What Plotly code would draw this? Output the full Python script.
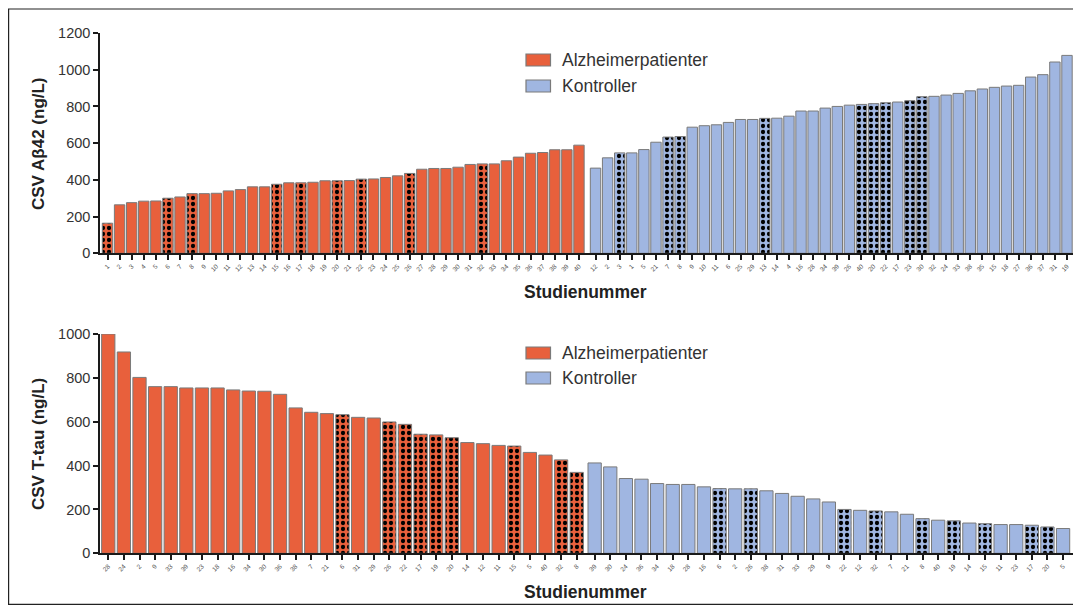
import plotly.graph_objects as go

# page offset (browser body margin) and the resulting figure size
OX, OY = 8, 8
W, H = 1081 - OX, 605 - OY

# ---------------- DATA ----------------
# Top chart: CSV Abeta42 (ng/L)
top_alz_labels = ["1", "2", "3", "4", "5", "6", "7", "8", "9", "10",
                  "11", "12", "13", "14", "15", "16", "17", "18", "19", "20",
                  "21", "22", "23", "24", "25", "26", "27", "28", "29", "30",
                  "31", "32", "33", "34", "35", "36", "37", "38", "39", "40"]
top_alz_values = [164, 264, 276, 284, 285, 300, 307, 325, 325, 327,
                  340, 347, 362, 362, 376, 384, 384, 387, 395, 395,
                  396, 404, 405, 413, 422, 435, 458, 462, 462, 469,
                  484, 487, 487, 504, 524, 545, 549, 564, 564, 589]
top_alz_marked = [1, 0, 0, 0, 0, 1, 0, 1, 0, 0,
                  0, 0, 0, 0, 1, 0, 1, 0, 0, 1,
                  0, 1, 0, 0, 0, 1, 0, 0, 0, 0,
                  0, 1, 0, 0, 0, 0, 0, 0, 0, 0]

top_ctl_labels = ["12", "2", "3", "1", "5", "21", "7", "8", "9", "10",
                  "11", "6", "25", "29", "13", "14", "4", "16", "28", "34",
                  "39", "26", "40", "20", "22", "17", "23", "30", "32", "24",
                  "33", "38", "35", "15", "18", "27", "36", "37", "31", "19"]
top_ctl_values = [464, 520, 547, 547, 565, 605, 633, 636, 687, 695,
                  700, 713, 729, 729, 735, 736, 747, 775, 775, 791,
                  800, 807, 811, 815, 820, 824, 831, 853, 855, 862,
                  871, 885, 895, 904, 911, 915, 960, 973, 1042, 1078]
top_ctl_marked = [0, 0, 1, 0, 0, 0, 1, 1, 0, 0,
                  0, 0, 0, 0, 1, 0, 0, 0, 0, 0,
                  0, 0, 1, 1, 1, 0, 1, 1, 0, 0,
                  0, 0, 0, 0, 0, 0, 0, 0, 0, 0]

# Bottom chart: CSV T-tau (ng/L)
bot_alz_labels = ["28", "24", "2", "9", "33", "39", "23", "18", "16", "34",
                  "30", "36", "38", "7", "21", "6", "31", "29", "26", "22",
                  "17", "19", "20", "14", "12", "11", "15", "5", "40", "32", "8"]
bot_alz_values = [1000, 918, 802, 760, 760, 754, 754, 754, 745, 740,
                  739, 725, 663, 643, 637, 632, 620, 617, 599, 588,
                  543, 540, 527, 505, 500, 492, 489, 460, 448, 426, 369]
bot_alz_marked = [0, 0, 0, 0, 0, 0, 0, 0, 0, 0,
                  0, 0, 0, 0, 0, 1, 0, 0, 1, 1,
                  1, 1, 1, 0, 0, 0, 1, 0, 0, 1, 1]

bot_ctl_labels = ["39", "30", "24", "36", "34", "18", "28", "16", "6", "2",
                  "26", "38", "31", "33", "29", "9", "22", "12", "32", "7",
                  "21", "8", "40", "19", "14", "15", "11", "23", "17", "20", "5"]
bot_ctl_values = [412, 394, 341, 338, 318, 314, 314, 303, 295, 294,
                  294, 285, 273, 260, 248, 234, 200, 196, 193, 189,
                  178, 158, 151, 148, 138, 135, 131, 131, 128, 120, 113]
bot_ctl_marked = [0, 0, 0, 0, 0, 0, 0, 0, 1, 0,
                  1, 0, 0, 0, 0, 0, 1, 0, 1, 0,
                  0, 1, 0, 1, 0, 1, 0, 0, 1, 1, 0]

series_names = ["Alzheimerpatienter", "Kontroller"]
top_ytitle = "CSV Aβ42 (ng/L)"
bot_ytitle = "CSV T-tau (ng/L)"
x_title = "Studienummer"

# ---------------- STYLE ----------------
ORANGE = "#E8603C"
BLUE = "#A0B6E1"
EDGE = "#7A7A7A"
AX = "#1a1a1a"
FONT = "Liberation Sans, Arial, sans-serif"


def px_x(x):
    return (x - OX) / W


def px_y(y):
    return 1 - (y - OY) / H


fig = go.Figure()


def add_group(xs, vals, marked, labels, color, xaxis, yaxis, width):
    fig.add_trace(go.Bar(
        x=xs, y=vals, width=width,
        xaxis=xaxis, yaxis=yaxis,
        showlegend=False,
        hovertext=labels,
        marker=dict(
            color=color,
            line=dict(color=EDGE, width=1),
            pattern=dict(
                shape=["." if m else "" for m in marked],
                fgcolor="black", bgcolor=color,
                size=6, solidity=0.4, fillmode="replace",
            ),
        ),
    ))


# positions: control group shifted by a small gap after the patient group
top_gap = 0.37
top_x_alz = list(range(len(top_alz_values)))
top_x_ctl = [len(top_alz_values) + top_gap + i for i in range(len(top_ctl_values))]
bot_gap = 0.15
bot_x_alz = list(range(len(bot_alz_values)))
bot_x_ctl = [len(bot_alz_values) + bot_gap + i for i in range(len(bot_ctl_values))]

add_group(top_x_alz, top_alz_values, top_alz_marked, top_alz_labels, ORANGE, "x", "y", 0.86)
add_group(top_x_ctl, top_ctl_values, top_ctl_marked, top_ctl_labels, BLUE, "x", "y", 0.86)
add_group(bot_x_alz, bot_alz_values, bot_alz_marked, bot_alz_labels, ORANGE, "x2", "y2", 0.85)
add_group(bot_x_ctl, bot_ctl_values, bot_ctl_marked, bot_ctl_labels, BLUE, "x2", "y2", 0.85)

xdom = [px_x(100), px_x(1074)]
top_dom = [px_y(253.3), px_y(33)]
bot_dom = [px_y(553.3), px_y(334)]

common_x = dict(
    showline=True, linecolor=AX, linewidth=1.5,
    ticks="outside", ticklen=5, tickwidth=1.5, tickcolor=AX,
    tickangle=-45, tickfont=dict(size=6.5, color="#555", family=FONT),
    showgrid=False, zeroline=False, automargin=False,
)
common_y = dict(
    showline=True, linecolor=AX, linewidth=1.5,
    ticks="outside", ticklen=5, tickwidth=1.5, tickcolor=AX,
    tickfont=dict(size=14.5, color="#333", family=FONT),
    showgrid=False, zeroline=False, automargin=False,
)

fig.update_layout(
    width=W, height=H,
    margin=dict(l=0, r=0, t=0, b=0, pad=0, autoexpand=False),
    paper_bgcolor="white", plot_bgcolor="white",
    barmode="overlay",
    font=dict(family=FONT),
    xaxis=dict(domain=xdom, anchor="y", range=[-0.62, 79.95],
               tickmode="array", tickvals=top_x_alz + top_x_ctl,
               ticktext=top_alz_labels + top_ctl_labels, **common_x),
    yaxis=dict(domain=top_dom, anchor="x", range=[0, 1200], dtick=200, **common_y),
    xaxis2=dict(domain=xdom, anchor="y2", range=[-0.53, 61.85],
                tickmode="array", tickvals=bot_x_alz + bot_x_ctl,
                ticktext=bot_alz_labels + bot_ctl_labels, **common_x),
    yaxis2=dict(domain=bot_dom, anchor="x2", range=[0, 1000], dtick=200, **common_y),
)

shapes = []
annotations = []

# outer frame
shapes.append(dict(type="rect", xref="paper", yref="paper",
                   x0=px_x(8.6), x1=px_x(1077), y0=px_y(604.4), y1=px_y(9),
                   line=dict(color="#222", width=1.2), fillcolor="rgba(0,0,0,0)"))

# legends
for (y1, y2) in [(60, 86), (353, 378)]:
    for yc, col, name in [(y1, ORANGE, series_names[0]), (y2, BLUE, series_names[1])]:
        shapes.append(dict(type="rect", xref="paper", yref="paper",
                           x0=px_x(526), x1=px_x(550.5), y0=px_y(yc + 6), y1=px_y(yc - 6),
                           line=dict(color=EDGE, width=1.2), fillcolor=col))
        annotations.append(dict(xref="paper", yref="paper", x=px_x(560), y=px_y(yc),
                                xanchor="left", yanchor="middle", showarrow=False,
                                text=name, font=dict(size=17.5, color="#333", family=FONT)))

# axis titles
for yc, txt in [(144, top_ytitle), (444, bot_ytitle)]:
    annotations.append(dict(xref="paper", yref="paper", x=px_x(38), y=px_y(yc),
                            xanchor="center", yanchor="middle", showarrow=False,
                            textangle=-90, text="<b>" + txt + "</b>",
                            font=dict(size=17, color="#222", family=FONT)))
for yc in [292, 592]:
    annotations.append(dict(xref="paper", yref="paper", x=px_x(585), y=px_y(yc),
                            xanchor="center", yanchor="middle", showarrow=False,
                            text="<b>" + x_title + "</b>",
                            font=dict(size=17.5, color="#222", family=FONT)))

fig.update_layout(shapes=shapes, annotations=annotations)

fig.write_html("out.html")
